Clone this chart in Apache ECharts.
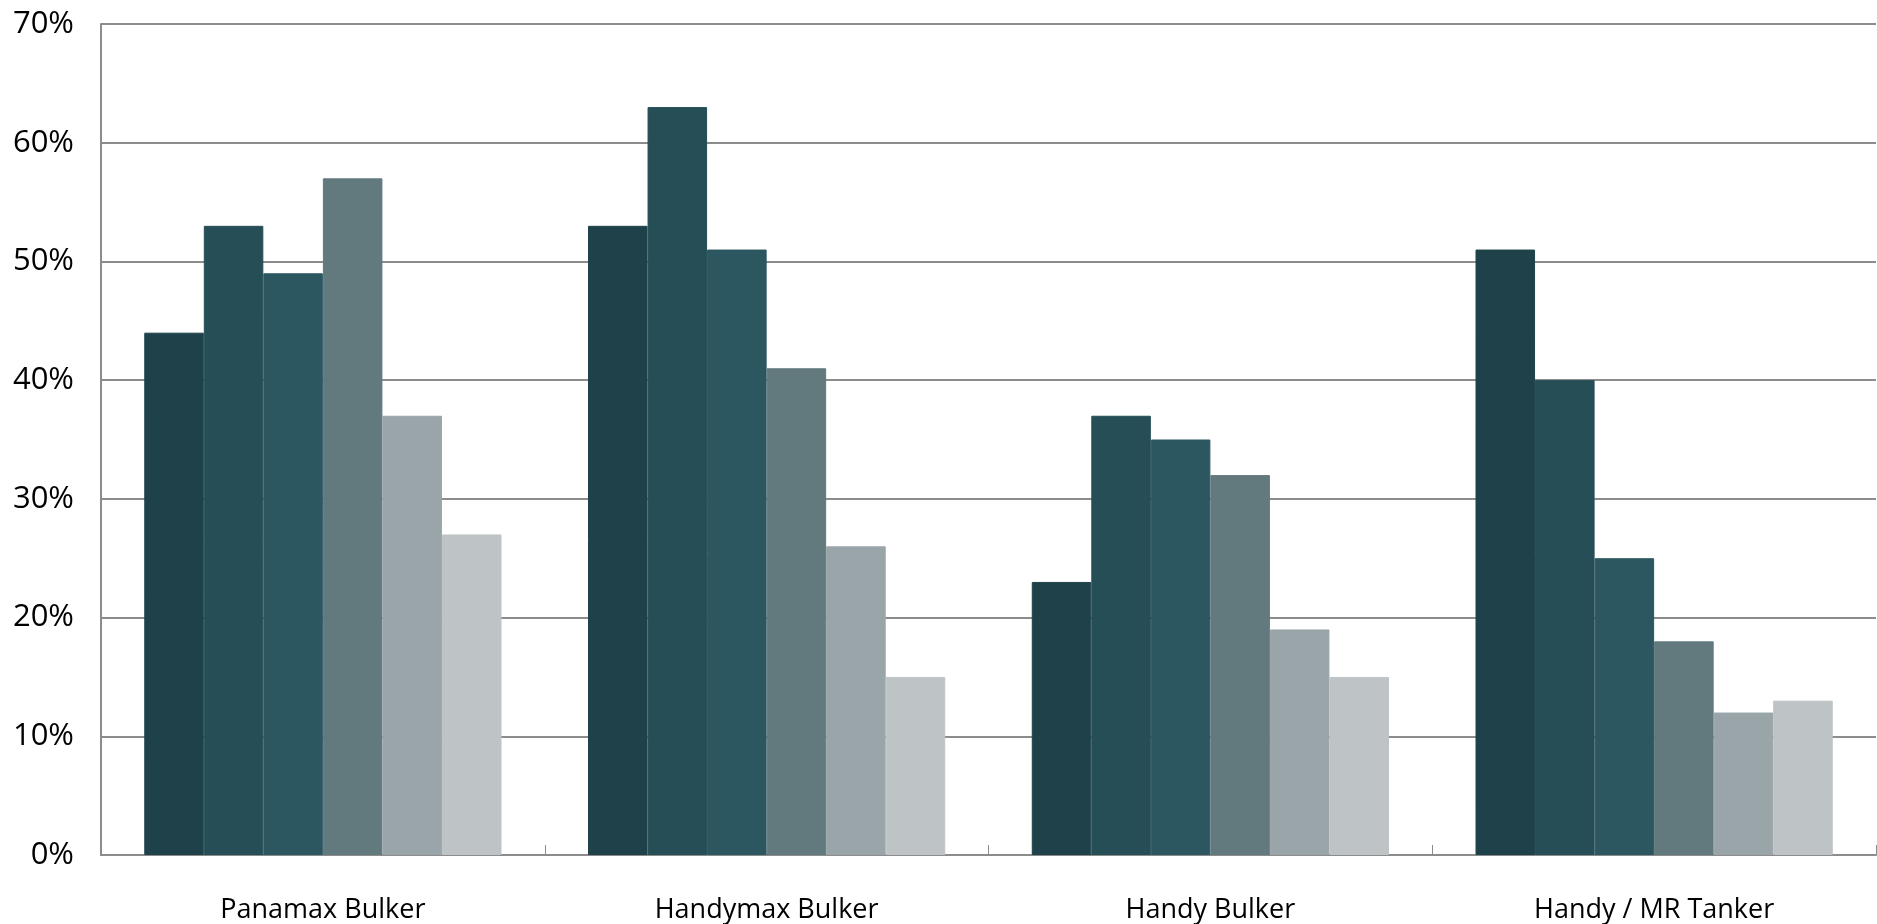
<!DOCTYPE html>
<html>
<head>
<meta charset="utf-8">
<style>
  html, body { margin: 0; padding: 0; background: #ffffff; }
  #chart { width: 1877px; height: 924px; }
</style>
<script src="https://cdn.jsdelivr.net/npm/echarts@6/dist/echarts.min.js"></script>
</head>
<body>
<div id="chart"></div>
<script>
// Vessel segments along the category axis
const categories = ['Panamax Bulker', 'Handymax Bulker', 'Handy Bulker', 'Handy / MR Tanker'];

// Share per segment (%), six series from dark to light
const series1 = [44, 53, 23, 51];
const series2 = [53, 63, 37, 40];
const series3 = [49, 51, 35, 25];
const series4 = [57, 41, 32, 18];
const series5 = [37, 26, 19, 12];
const series6 = [27, 15, 15, 13];

const seriesValues = [series1, series2, series3, series4, series5, series6];
const seriesColors = ['#1f424a', '#254e57', '#2c5761', '#62797e', '#9aa5a9', '#bec3c5'];

const chart = echarts.init(document.getElementById('chart'));

chart.setOption({
  animation: false,
  backgroundColor: '#ffffff',
  grid: { left: 101, right: 1, top: 24, bottom: 69, containLabel: false },
  xAxis: {
    type: 'category',
    data: categories,
    axisLine: { show: true, lineStyle: { color: '#8c8c8c', width: 2 } },
    axisTick: { show: true, inside: true, length: 10, alignWithLabel: false, lineStyle: { color: '#8c8c8c', width: 1 } },
    axisLabel: {
      color: '#000000',
      fontFamily: 'Open Sans',
      fontSize: 27,
      margin: 42
    },
    splitLine: { show: false }
  },
  yAxis: {
    type: 'value',
    min: 0,
    max: 70,
    interval: 10,
    axisLine: { show: true, lineStyle: { color: '#8c8c8c', width: 2 } },
    axisTick: { show: false },
    axisLabel: {
      color: '#000000',
      fontFamily: 'Open Sans',
      fontSize: 31,
      margin: 27,
      formatter: '{value}%'
    },
    splitLine: { show: true, lineStyle: { color: '#8c8c8c', width: 2 } }
  },
  series: seriesValues.map((vals, i) => ({
    name: 'S' + (i + 1),
    type: 'bar',
    data: vals,
    barGap: '0%',
    barCategoryGap: '19.5%',
    itemStyle: {
      color: seriesColors[i],
      // same-colour edge closes the hairline seams between adjacent bars
      borderColor: seriesColors[i],
      borderWidth: 1
    }
  }))
});
</script>
</body>
</html>
